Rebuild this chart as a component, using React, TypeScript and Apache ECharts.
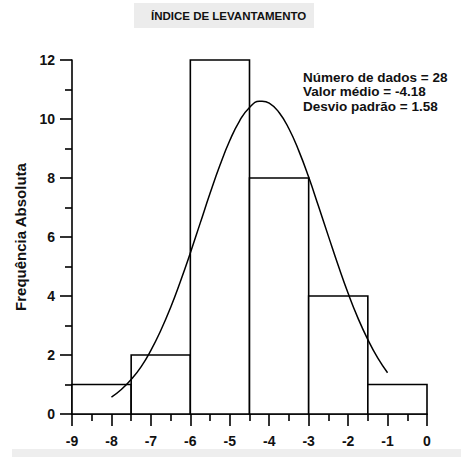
import React, { useEffect, useRef } from "react";
import * as echarts from "echarts";

const binStart = [-9, -7.5, -6, -4.5, -3, -1.5];
const binEnd = [-7.5, -6, -4.5, -3, -1.5, 0];
const counts = [1, 2, 12, 8, 4, 1];

const curveX = [-8, -7.75, -7.5, -7.25, -7, -6.75, -6.5, -6.25, -6, -5.75, -5.5, -5.25, -5, -4.75, -4.5, -4.25, -4.18, -4, -3.75, -3.5, -3.25, -3, -2.75, -2.5, -2.25, -2, -1.75, -1.5, -1.25, -1];
const curveY = [0.57, 0.83, 1.17, 1.6, 2.16, 2.83, 3.61, 4.5, 5.46, 6.47, 7.48, 8.43, 9.27, 9.94, 10.39, 10.6, 10.6, 10.54, 10.22, 9.67, 8.92, 8.03, 7.04, 6.03, 5.03, 4.09, 3.25, 2.52, 1.9, 1.4];

const xTicks = [-9, 0, 1];
const yTicks = [0, 12, 2];

const titleText = "ÍNDICE DE LEVANTAMENTO";
const yName = "Frequência Absoluta";
const statsLines = ["Número de dados = 28", "Valor médio = -4.18", "Desvio padrão = 1.58"];

export default function App() {
  const ref = useRef<HTMLDivElement>(null);
  useEffect(() => {
    document.body.style.margin = "0";
    const chart = echarts.init(ref.current!, null, { renderer: "svg" });
    const font = "Liberation Sans, Arial, sans-serif";
    const barData = binStart.map((s, i) => [s, binEnd[i], counts[i]]);
    const lineData = curveX.map((x, i) => [x, curveY[i]]);
    chart.setOption({
      animation: false,
      backgroundColor: "#ffffff",
      grid: { left: 72, right: 34, top: 60, bottom: 43, containLabel: false },
      xAxis: {
        type: "value",
        min: xTicks[0],
        max: xTicks[1],
        interval: xTicks[2],
        axisLine: { show: true, onZero: false, lineStyle: { color: "#000", width: 1.6 } },
        axisTick: { show: true, inside: false, length: 12, lineStyle: { color: "#000", width: 1.6 } },
        minorTick: { show: true, splitNumber: 2, length: 7, lineStyle: { color: "#000", width: 1.6 } },
        splitLine: { show: false },
        minorSplitLine: { show: false },
        axisLabel: { margin: 20, color: "#111", fontFamily: font, fontWeight: "bold", fontSize: 14 },
      },
      yAxis: {
        type: "value",
        min: yTicks[0],
        max: yTicks[1],
        interval: yTicks[2],
        name: yName,
        nameLocation: "middle",
        nameGap: 44,
        nameTextStyle: { color: "#111", fontFamily: font, fontWeight: "bold", fontSize: 15 },
        axisLine: { show: true, onZero: false, lineStyle: { color: "#000", width: 1.6 } },
        axisTick: { show: true, inside: false, length: 12, lineStyle: { color: "#000", width: 1.6 } },
        minorTick: { show: true, splitNumber: 2, length: 7, lineStyle: { color: "#000", width: 1.6 } },
        splitLine: { show: false },
        minorSplitLine: { show: false },
        axisLabel: { margin: 17, color: "#111", fontFamily: font, fontWeight: "bold", fontSize: 14 },
      },
      series: [
        {
          type: "custom",
          data: barData,
          encode: { x: [0, 1], y: 2 },
          z: 2,
          renderItem: (params: any, api: any) => {
            const x0 = api.value(0);
            const x1 = api.value(1);
            const h = api.value(2);
            const p0 = api.coord([x0, h]);
            const p1 = api.coord([x1, 0]);
            return {
              type: "rect",
              shape: { x: p0[0], y: p0[1], width: p1[0] - p0[0], height: p1[1] - p0[1] },
              style: { fill: "#ffffff", stroke: "#000000", lineWidth: 1.6 },
            };
          },
        },
        {
          type: "line",
          data: lineData,
          smooth: true,
          showSymbol: false,
          symbol: "none",
          z: 3,
          lineStyle: { color: "#000", width: 1.5 },
        },
      ],
      graphic: [
        { type: "rect", left: 134, top: 3, shape: { width: 180, height: 25 }, style: { fill: "#ececec" }, z: 0 },
        {
          type: "text",
          left: 151,
          top: 10,
          style: { text: titleText, fill: "#111", font: `bold 11.5px ${font}` },
          z: 1,
        },
        { type: "rect", left: 12, top: 449, shape: { width: 449, height: 8 }, style: { fill: "#eeeeee" }, z: 0 },
        ...statsLines.map((t, i) => ({
          type: "text",
          left: 303,
          top: 70 + i * 14.5,
          style: { text: t, fill: "#111", font: `bold 13.5px ${font}` },
          z: 10,
        })),
      ],
    });
    return () => chart.dispose();
  }, []);
  return <div ref={ref} style={{ position: "fixed", left: 0, top: 0, width: 461, height: 457 }} />;
}
